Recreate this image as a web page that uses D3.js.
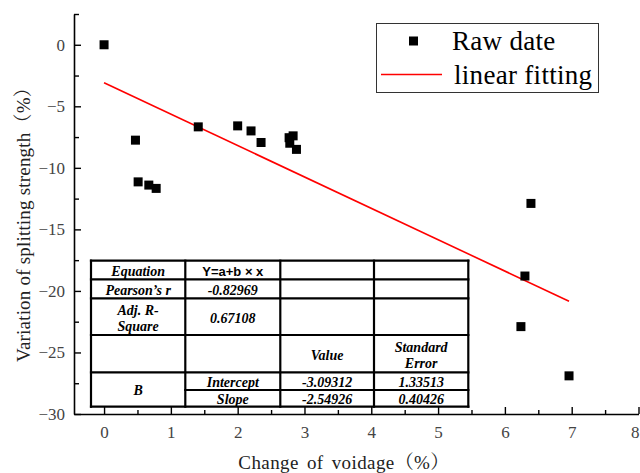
<!DOCTYPE html>
<html>
<head>
<meta charset="utf-8">
<script src="https://cdn.jsdelivr.net/npm/d3@7"></script>
<style>
  html, body { margin: 0; padding: 0; background: #fff; }
  svg { display: block; }
</style>
</head>
<body>
<svg id="chart" width="640" height="473"></svg>
<script>
// Measured points: change of voidage (%) vs. variation of splitting strength (%)
const voidageChange = [0, 0.47, 0.51, 0.67, 0.78, 1.41, 2.0, 2.2, 2.35, 2.77, 2.83, 2.78, 2.88, 6.39, 6.3, 6.24, 6.96];
const strengthChange = [0, -7.75, -11.14, -11.4, -11.67, -6.67, -6.59, -7.0, -7.94, -7.55, -7.4, -8.0, -8.5, -12.89, -18.79, -22.9, -26.9];

// Linear fit Y = a + b * x
const fitIntercept = -3.09312;
const fitSlope = -2.54926;
const fitRange = [0, 6.96];

// Axis ticks
const xTicks = [0, 1, 2, 3, 4, 5, 6, 7, 8];
const xMinorTicks = [0.5, 1.5, 2.5, 3.5, 4.5, 5.5, 6.5, 7.5];
const yTicks = [0, -5, -10, -15, -20, -25, -30];
const yMinorTicks = [2.5, -2.5, -7.5, -12.5, -17.5, -22.5, -27.5];

// Legend entries
const legendLabels = ["Raw date", "linear fitting"];

// Fit statistics table (rows of cells)
const statsRows = [
  ["Equation", "Y=a+b \u00D7 x", "", ""],
  ["Pearson\u2019s r", "-0.82969", "", ""],
  ["Adj. R-\nSquare", "0.67108", "", ""],
  ["", "", "Value", "Standard\nError"],
  ["B", "Intercept", "-3.09312", "1.33513"],
  ["", "Slope", "-2.54926", "0.40426"]
];

const svg = d3.select("#chart");
const serif = "'Liberation Serif', 'Times New Roman', 'Noto Serif CJK SC', 'Noto Sans CJK SC', serif";

const x = d3.scaleLinear().domain([-0.45, 8]).range([74, 638.5]);
const y = d3.scaleLinear().domain([-30, 2.5]).range([414, 14]);

// ---- Axes ----
svg.append("g")
  .attr("transform", `translate(0,${y(-30)})`)
  .call(d3.axisBottom(x).tickValues(xTicks).tickSizeInner(-7).tickSizeOuter(0).tickPadding(12)
    .tickFormat(d3.format("d")))
  .call(g => g.selectAll(".tick text").filter(d => d === 8).attr("text-anchor", "end").attr("dx", 0.5));
svg.append("g")
  .attr("transform", `translate(0,${y(-30)})`)
  .call(d3.axisBottom(x).tickValues(xMinorTicks).tickSizeInner(-4).tickSizeOuter(0).tickFormat(""))
  .call(g => g.select(".domain").remove());

svg.append("g")
  .attr("transform", `translate(${x(-0.45)},0)`)
  .call(d3.axisLeft(y).tickValues(yTicks).tickSizeInner(-7).tickSizeOuter(0).tickPadding(9));
svg.append("g")
  .attr("transform", `translate(${x(-0.45)},0)`)
  .call(d3.axisLeft(y).tickValues(yMinorTicks).tickSizeInner(-5).tickSizeOuter(0).tickFormat(""))
  .call(g => g.select(".domain").remove());

svg.selectAll(".domain").attr("stroke", "#000").attr("stroke-width", 1.6);
svg.selectAll(".tick line").attr("stroke", "#000").attr("stroke-width", 1.4);
svg.selectAll(".tick text")
  .attr("font-family", serif)
  .attr("font-size", 17)
  .attr("fill", "#444");

// Axis titles
svg.append("text")
  .attr("x", 344).attr("y", 469)
  .attr("text-anchor", "middle")
  .attr("font-family", serif).attr("font-size", 19).attr("fill", "#222")
  .attr("word-spacing", 3).attr("letter-spacing", 0.4)
  .text("Change of voidage（%）");

svg.append("text")
  .attr("transform", "translate(30,220) rotate(-90)")
  .attr("text-anchor", "middle")
  .attr("font-family", serif).attr("font-size", 19).attr("fill", "#222")
  .attr("letter-spacing", 0.2)
  .text("Variation of splitting strength（%）");

// ---- Fit line ----
svg.append("line")
  .attr("x1", x(fitRange[0])).attr("y1", y(fitIntercept + fitSlope * fitRange[0]))
  .attr("x2", x(fitRange[1])).attr("y2", y(fitIntercept + fitSlope * fitRange[1]))
  .attr("stroke", "#ff0000").attr("stroke-width", 1.6);

// ---- Data points ----
const sq = 9;
svg.append("g").selectAll("rect")
  .data(voidageChange.map((v, i) => [v, strengthChange[i]]))
  .join("rect")
  .attr("x", d => x(d[0]) - sq / 2)
  .attr("y", d => y(d[1]) - sq / 2)
  .attr("width", sq).attr("height", sq)
  .attr("fill", "#000");

// ---- Legend ----
const legend = svg.append("g");
legend.append("rect")
  .attr("x", 376.5).attr("y", 23.5).attr("width", 222).attr("height", 69)
  .attr("fill", "#fff").attr("stroke", "#333").attr("stroke-width", 1);
legend.append("rect")
  .attr("x", 409).attr("y", 36.5).attr("width", 9).attr("height", 9).attr("fill", "#000");
legend.append("line")
  .attr("x1", 381).attr("x2", 442).attr("y1", 74.5).attr("y2", 74.5)
  .attr("stroke", "#ff0000").attr("stroke-width", 1.6);
legend.selectAll("text.lg")
  .data(legendLabels)
  .join("text")
  .attr("class", "lg")
  .attr("x", (d, i) => i === 0 ? 452 : 454)
  .attr("y", (d, i) => i === 0 ? 50 : 84)
  .attr("font-family", serif).attr("font-size", 27).attr("fill", "#000")
  .attr("letter-spacing", 0.3)
  .text(d => d);

// ---- Statistics table ----
const colEdges = [91, 185.3, 280.3, 374, 468.3];
const rowEdges = [260.7, 279.3, 298.3, 335, 372.3, 390, 406.7];
const table = svg.append("g");
table.append("rect")
  .attr("x", colEdges[0]).attr("y", rowEdges[0])
  .attr("width", colEdges[4] - colEdges[0]).attr("height", rowEdges[6] - rowEdges[0])
  .attr("fill", "#fff");

const tLines = [];
colEdges.forEach(cx => tLines.push([cx, rowEdges[0], cx, rowEdges[6]]));
rowEdges.forEach((ry, i) => {
  const x0 = (i === 5) ? colEdges[1] : colEdges[0];
  tLines.push([x0, ry, colEdges[4], ry]);
});
table.selectAll("line")
  .data(tLines)
  .join("line")
  .attr("x1", d => d[0]).attr("y1", d => d[1])
  .attr("x2", d => d[2]).attr("y2", d => d[3])
  .attr("stroke", "#000").attr("stroke-width", 2.2).attr("stroke-linecap", "square");

statsRows.forEach((row, r) => {
  row.forEach((txt, c) => {
    if (!txt) return;
    let top = rowEdges[r], bottom = rowEdges[r + 1];
    if (r === 4 && c === 0) bottom = rowEdges[6];
    const cx = (colEdges[c] + colEdges[c + 1]) / 2;
    const cy = (top + bottom) / 2 + 1;
    const lines = txt.split("\n");
    const lh = 16;
    const isEq = (r === 0 && c === 1);
    const bold = (c === 0) || (r <= 3);
    const t = table.append("text")
      .attr("text-anchor", "middle")
      .attr("font-family", isEq ? "'Liberation Sans', Arial, sans-serif" : serif)
      .attr("font-style", isEq ? "normal" : "italic")
      .attr("font-weight", bold ? "bold" : (r >= 4 ? "600" : "normal"))
      .attr("font-size", isEq ? 13 : 14)
      .attr("fill", "#000");
    lines.forEach((ln, k) => {
      t.append("tspan")
        .attr("x", cx)
        .attr("y", cy + (k - (lines.length - 1) / 2) * lh)
        .attr("dy", "0.35em")
        .text(ln);
    });
  });
});
</script>
</body>
</html>
